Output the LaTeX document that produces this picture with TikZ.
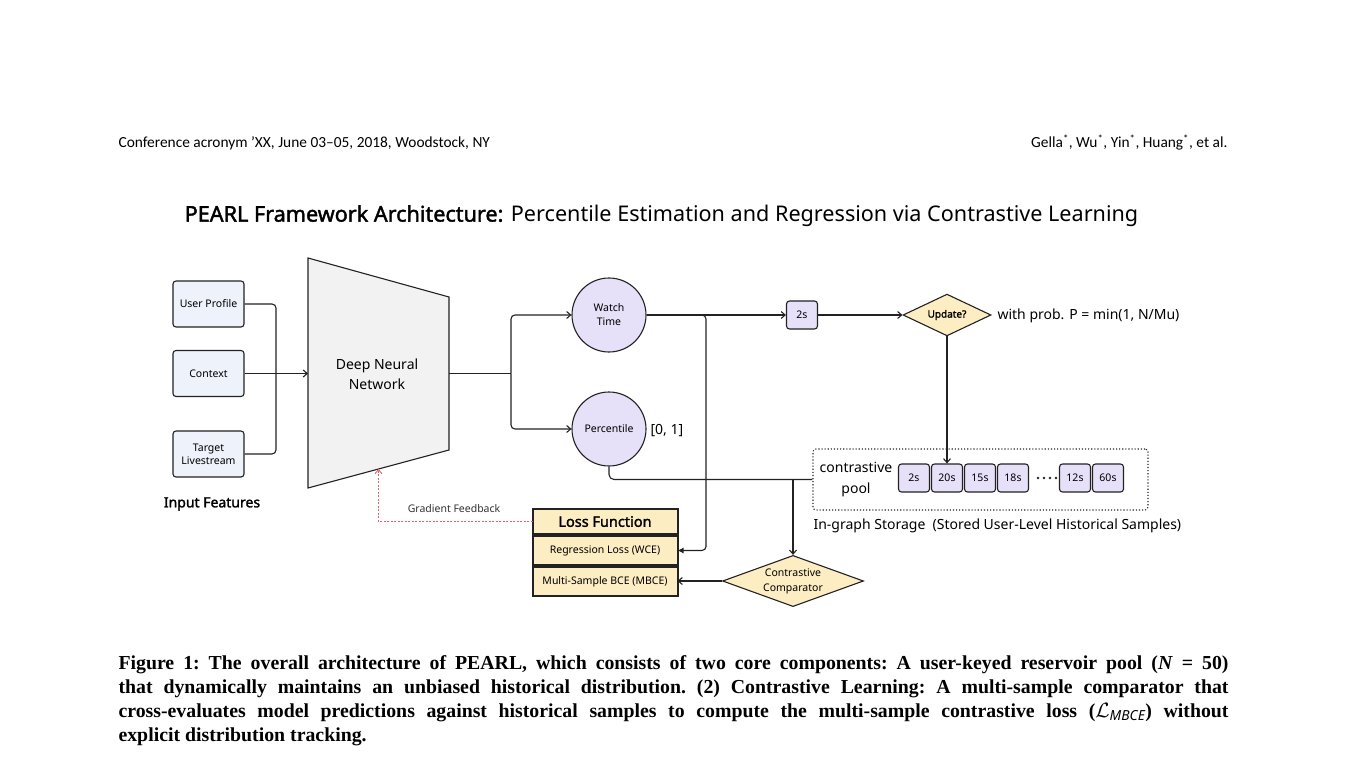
\documentclass[tikz,border=0pt]{standalone}
\usepackage{fontspec}
\setmainfont{Noto Sans}[AutoFakeBold=1.8]
\newfontfamily\paperfont{Liberation Serif}
\newfontfamily\headfont{Carlito}
\usetikzlibrary{shapes.geometric, arrows.meta, positioning, calc}
\usepackage{xcolor}
\definecolor{inputfill}{HTML}{EEF2FB}
\definecolor{headfill}{HTML}{E6E0F8}
\definecolor{gatefill}{HTML}{FDEDC2}
\definecolor{dnnfill}{HTML}{F2F2F2}
\definecolor{linecol}{HTML}{222222}
\definecolor{gradcol}{HTML}{E06666}

\begin{document}
\begin{tikzpicture}[x=1pt, y=-1pt,
    >={Straight Barb[length=4pt, width=7pt]},
    every path/.style={line width=1.1pt, draw=linecol},
    inputbox/.style={draw, rectangle, rounded corners=3pt, minimum width=71pt, minimum height=46pt, fill=inputfill, align=center, font=\fontsize{10.5}{13}\selectfont, inner sep=1pt},
    headcircle/.style={draw, circle, minimum size=74pt, fill=headfill, align=center, font=\fontsize{10.5}{14}\selectfont, inner sep=1pt},
    sample/.style={draw, rectangle, rounded corners=3pt, minimum width=31pt, minimum height=28pt, fill=headfill, font=\fontsize{10.5}{13}\selectfont, inner sep=1pt},
    gate/.style={draw, diamond, aspect=1.22, fill=gatefill, align=center, inner sep=0pt},
    lossrow/.style={draw, rectangle, line width=2pt, minimum width=145pt, fill=gatefill, font=\fontsize{10.5}{13}\selectfont, inner sep=0pt, outer sep=0pt}
]
    % Page
    \fill[white, draw=none] (0,0) rectangle (1347,770);

    % Running head
    \node[anchor=base west, inner sep=0, font=\headfont\fontsize{15.4}{17}\selectfont] (headl) at (118,148) {Conference acronym ’XX, June 03–05, 2018, Woodstock, NY};
    \node[anchor=base east, inner sep=0, font=\headfont\fontsize{15.4}{17}\selectfont] (headr) at (1228,148) {Gella\textsuperscript{*}, Wu\textsuperscript{*}, Yin\textsuperscript{*}, Huang\textsuperscript{*}, et al.};

    % Title
    \node[inner sep=0, font=\fontsize{21.6}{25}\selectfont] (title) at (661.5,216) {\textbf{PEARL Framework Architecture:} Percentile Estimation and Regression via Contrastive Learning};

    % Input Features
    \node[inputbox] (user) at (208.5,304) {User Profile};
    \node[inputbox] (context) at (208.5,373.5) {Context};
    \node[inputbox] (target) at (208.5,454) {Target\\Livestream};
    \node[font=\bfseries\fontsize{14}{16}\selectfont] (inlabel) at (212,504) {Input Features};

    % Deep Neural Network
    \coordinate (dnntl) at (308,258);
    \coordinate (dnnbl) at (308,488);
    \coordinate (dnntr) at (449,297);
    \coordinate (dnnbr) at (449,450);
    \filldraw[fill=dnnfill] (dnntl) -- (dnntr) -- (dnnbr) -- (dnnbl) -- cycle;
    \node[align=center, font=\fontsize{14}{20}\selectfont] (dnn) at (377,374) {Deep Neural\\Network};
    \coordinate (dnnin) at (308,373.5);
    \coordinate (dnnout) at (449,373.5);
    \coordinate (dnnbot) at ($(dnnbl)!0.5!(dnnbr)$);
    \coordinate (inmerge) at (276,373.5);
    \coordinate (outsplit) at (511,373.5);

    % Heads
    \node[headcircle] (watch) at (609,315) {Watch\\Time};
    \node[headcircle] (pct) at (609,429) {Percentile};
    \node[anchor=west, font=\fontsize{14}{16}\selectfont, inner sep=0] (range) at (650,431) {[0, 1]};

    % Reservoir update
    \node[sample] (ts) at (802,315) {2s};
    \node[gate, minimum width=88pt, font=\bfseries\fontsize{10}{12}\selectfont] (update) at (947,315) {Update?};
    \node[anchor=west, font=\fontsize{14}{16}\selectfont, inner sep=0] (prob) at (997,316) {with prob. P = min(1, N/Mu)};

    % Contrastive pool
    \node[draw, dotted, rounded corners=3pt, minimum width=335pt, minimum height=61pt] (pool) at (980.5,479.5) {};
    \node[align=center, font=\fontsize{14}{21}\selectfont] (poollabel) at (856,480) {contrastive\\pool};
    \foreach \val/\x in {2s/914, 20s/947, 15s/980, 18s/1013, 12s/1075, 60s/1108}
        \node[sample] (s\val) at (\x,478) {\val};
    \foreach \x in {1038, 1044, 1050, 1056}
        \fill[linecol, draw=none] (\x,478) circle (1.4pt);
    \node[anchor=west, font=\fontsize{14}{16}\selectfont, inner sep=0] (storage) at (813,526) {In-graph Storage\ \ (Stored User-Level Historical Samples)};
    \coordinate (psplit) at (793,479.5);

    % Loss Function
    \node[lossrow, minimum height=25pt, font=\bfseries\fontsize{14.5}{16}\selectfont] (losshead) at (605,521.5) {Loss Function};
    \node[lossrow, minimum height=29pt, below=2pt of losshead] (reg) {Regression Loss (WCE)};
    \node[lossrow, minimum height=29pt, below=2pt of reg] (mbce) {Multi-Sample BCE (MBCE)};

    % Contrastive Comparator
    \node[gate, minimum width=141pt, aspect=2.3, font=\fontsize{10.5}{15}\selectfont] (comp) at (793,581) {Contrastive\\Comparator};
    \coordinate (wsplit) at (706,315);

    % Arrows
    \draw[rounded corners=4pt] (user.east) -| (inmerge);
    \draw[rounded corners=4pt] (target.east) -| (inmerge);
    \draw[->] (context.east) -- (dnnin);
    \draw (dnnout) -- (outsplit);
    \draw[->, rounded corners=4pt] (outsplit) |- (watch.west);
    \draw[->, rounded corners=4pt] (outsplit) |- (pct.west);
    \draw[->] (watch.east) -- (ts.west);
    \draw[-{Latex[length=6pt, width=6pt]}, rounded corners=4pt] (watch.east) -- (wsplit) |- (reg.east);
    \draw[->] (ts.east) -- (update.west);
    \draw[->] (update.south) -- (s20s.north);
    \draw[rounded corners=5pt] (pct.south) |- (pool.west);
    \draw[->] (psplit) -- (comp.north);
    \draw[->] (comp.west) -- (comp.west -| mbce.east);
    \draw[->, draw=gradcol, line width=0.9pt, dash pattern=on 2pt off 1.5pt] (losshead.west) -| (dnnbot);
    \node[font=\fontsize{10.5}{13}\selectfont, text=black!80] (gradlabel) at (454,509) {Gradient Feedback};

    % Caption
    \node[anchor=north west, inner sep=0, text width=1110pt, align=justify, font=\paperfont\bfseries\fontsize{19.8}{24}\selectfont\frenchspacing] (caption) at (118,655) {Figure 1: The overall architecture of PEARL, which consists of two core components: A user-keyed reservoir pool (\textit{N}~=~50)\linebreak that dynamically maintains an unbiased historical distribution. (2) Contrastive Learning: A multi-sample comparator that\linebreak cross-evaluates model predictions against historical samples to compute the multi-sample contrastive loss ($\mathcal{L}_{\mathit{MBCE}}$) without\linebreak explicit distribution tracking.};
\end{tikzpicture}
\end{document}
